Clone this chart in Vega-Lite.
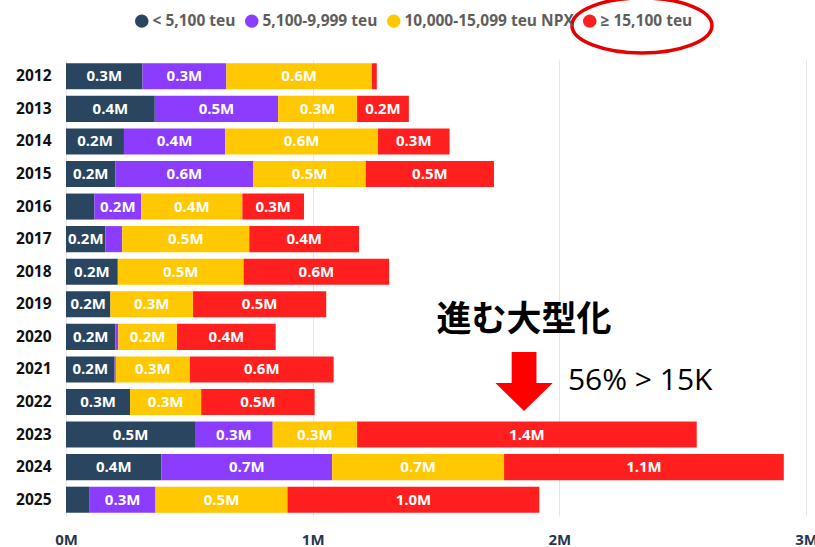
{
  "$schema": "https://vega.github.io/schema/vega-lite/v6.json",
  "width": 740,
  "height": 456,
  "autosize": {"type": "none"},
  "padding": {"left": 66, "top": 60, "right": 9, "bottom": 31},
  "background": "white",
  "config": {"view": {"stroke": null}, "font": "Open Sans"},
  "datasets": {
    "ships": [
      {"year": "2012", "cat": "< 5,100 teu", "v": 0.31},
      {"year": "2012", "cat": "5,100-9,999 teu", "v": 0.34},
      {"year": "2012", "cat": "10,000-15,099 teu NPX", "v": 0.59},
      {"year": "2012", "cat": "≥ 15,100 teu", "v": 0.02},
      {"year": "2013", "cat": "< 5,100 teu", "v": 0.36},
      {"year": "2013", "cat": "5,100-9,999 teu", "v": 0.5},
      {"year": "2013", "cat": "10,000-15,099 teu NPX", "v": 0.32},
      {"year": "2013", "cat": "≥ 15,100 teu", "v": 0.21},
      {"year": "2014", "cat": "< 5,100 teu", "v": 0.235},
      {"year": "2014", "cat": "5,100-9,999 teu", "v": 0.41},
      {"year": "2014", "cat": "10,000-15,099 teu NPX", "v": 0.62},
      {"year": "2014", "cat": "≥ 15,100 teu", "v": 0.29},
      {"year": "2015", "cat": "< 5,100 teu", "v": 0.2},
      {"year": "2015", "cat": "5,100-9,999 teu", "v": 0.56},
      {"year": "2015", "cat": "10,000-15,099 teu NPX", "v": 0.455},
      {"year": "2015", "cat": "≥ 15,100 teu", "v": 0.52},
      {"year": "2016", "cat": "< 5,100 teu", "v": 0.115},
      {"year": "2016", "cat": "5,100-9,999 teu", "v": 0.19},
      {"year": "2016", "cat": "10,000-15,099 teu NPX", "v": 0.41},
      {"year": "2016", "cat": "≥ 15,100 teu", "v": 0.25},
      {"year": "2017", "cat": "< 5,100 teu", "v": 0.16},
      {"year": "2017", "cat": "5,100-9,999 teu", "v": 0.068},
      {"year": "2017", "cat": "10,000-15,099 teu NPX", "v": 0.515},
      {"year": "2017", "cat": "≥ 15,100 teu", "v": 0.445},
      {"year": "2018", "cat": "< 5,100 teu", "v": 0.21},
      {"year": "2018", "cat": "10,000-15,099 teu NPX", "v": 0.51},
      {"year": "2018", "cat": "≥ 15,100 teu", "v": 0.59},
      {"year": "2019", "cat": "< 5,100 teu", "v": 0.18},
      {"year": "2019", "cat": "10,000-15,099 teu NPX", "v": 0.335},
      {"year": "2019", "cat": "≥ 15,100 teu", "v": 0.54},
      {"year": "2020", "cat": "< 5,100 teu", "v": 0.2},
      {"year": "2020", "cat": "5,100-9,999 teu", "v": 0.012},
      {"year": "2020", "cat": "10,000-15,099 teu NPX", "v": 0.238},
      {"year": "2020", "cat": "≥ 15,100 teu", "v": 0.4},
      {"year": "2021", "cat": "< 5,100 teu", "v": 0.197},
      {"year": "2021", "cat": "5,100-9,999 teu", "v": 0.005},
      {"year": "2021", "cat": "10,000-15,099 teu NPX", "v": 0.3},
      {"year": "2021", "cat": "≥ 15,100 teu", "v": 0.583},
      {"year": "2022", "cat": "< 5,100 teu", "v": 0.26},
      {"year": "2022", "cat": "10,000-15,099 teu NPX", "v": 0.288},
      {"year": "2022", "cat": "≥ 15,100 teu", "v": 0.46},
      {"year": "2023", "cat": "< 5,100 teu", "v": 0.523},
      {"year": "2023", "cat": "5,100-9,999 teu", "v": 0.315},
      {"year": "2023", "cat": "10,000-15,099 teu NPX", "v": 0.342},
      {"year": "2023", "cat": "≥ 15,100 teu", "v": 1.377},
      {"year": "2024", "cat": "< 5,100 teu", "v": 0.387},
      {"year": "2024", "cat": "5,100-9,999 teu", "v": 0.692},
      {"year": "2024", "cat": "10,000-15,099 teu NPX", "v": 0.697},
      {"year": "2024", "cat": "≥ 15,100 teu", "v": 1.134},
      {"year": "2025", "cat": "< 5,100 teu", "v": 0.096},
      {"year": "2025", "cat": "5,100-9,999 teu", "v": 0.267},
      {"year": "2025", "cat": "10,000-15,099 teu NPX", "v": 0.535},
      {"year": "2025", "cat": "≥ 15,100 teu", "v": 1.021}
    ],
    "title": [{"x": 1.857, "year": "2019", "t": "進む大型化"}],
    "note": [{"x": 2.035, "year": "2021", "t": "56% > 15K"}],
    "arrow": [{"x": 1.857, "year": "2021"}],
    "ring": [{"x": 2.335, "year": "2012"}]
  },
  "layer": [
    {
      "data": {"name": "ships"},
      "transform": [
        {"calculate": "indexof(['< 5,100 teu','5,100-9,999 teu','10,000-15,099 teu NPX','≥ 15,100 teu'], datum.cat)", "as": "o"},
        {"stack": "v", "groupby": ["year"], "sort": [{"field": "o", "order": "ascending"}], "as": ["x0", "x1"]},
        {"calculate": "(datum.x0 + datum.x1) / 2", "as": "mid"}
      ],
      "layer": [
        {
          "mark": {"type": "bar"},
          "encoding": {
            "y": {
              "field": "year", "type": "ordinal", "title": null,
              "scale": {"paddingInner": 0.2, "paddingOuter": 0.1},
              "axis": {"domain": false, "ticks": false, "labelPadding": 15, "labelFont": "Open Sans", "labelFontSize": 15.5, "labelFontWeight": "bold", "labelColor": "#111111"}
            },
            "x": {
              "field": "x0", "type": "quantitative", "title": null,
              "scale": {"domain": [0, 3], "nice": false},
              "axis": {"values": [0, 1, 2, 3], "labelExpr": "datum.value + 'M'", "labelFlush": false, "labelOverlap": false, "domain": false, "ticks": false, "grid": true, "gridColor": "#E6E6E6", "gridWidth": 1, "labelPadding": 16, "labelFont": "Open Sans", "labelFontSize": 15, "labelFontWeight": "bold", "labelColor": "#27374D"}
            },
            "x2": {"field": "x1"},
            "color": {
              "field": "cat", "type": "nominal",
              "scale": {
                "domain": ["< 5,100 teu", "5,100-9,999 teu", "10,000-15,099 teu NPX", "≥ 15,100 teu"],
                "range": ["#2A4560", "#8B3CFF", "#FFC800", "#FF1F1F"]
              },
              "legend": {
                "title": null, "orient": "none", "direction": "horizontal",
                "legendX": 68, "legendY": -47, "padding": 0,
                "symbolType": "circle", "symbolSize": 180, "symbolStrokeWidth": 0,
                "labelFont": "Open Sans", "labelFontSize": 15.5, "labelFontWeight": "bold", "labelColor": "#605E5C",
                "labelOffset": 3, "columnPadding": 8, "labelLimit": 400
              }
            }
          }
        },
        {
          "transform": [{"filter": "datum.v >= 0.13"}],
          "mark": {"type": "text", "color": "white", "font": "Open Sans", "fontSize": 15, "fontWeight": "bold", "align": "center", "baseline": "middle", "text": {"expr": "format(datum.v, '.1f') + 'M'"}},
          "encoding": {
            "y": {"field": "year", "type": "ordinal"},
            "x": {"field": "mid", "type": "quantitative"}
          }
        }
      ]
    },
    {
      "data": {"name": "title"},
      "mark": {"type": "text", "font": "Noto Sans CJK JP", "fontSize": 35, "fontWeight": "bold", "color": "#000000", "align": "center", "baseline": "middle"},
      "encoding": {
        "x": {"field": "x", "type": "quantitative"},
        "y": {"field": "year", "type": "ordinal", "bandPosition": 1.1},
        "text": {"field": "t"}
      }
    },
    {
      "data": {"name": "note"},
      "mark": {"type": "text", "font": "Open Sans", "fontSize": 30, "color": "#000000", "align": "left", "baseline": "alphabetic"},
      "encoding": {
        "x": {"field": "x", "type": "quantitative"},
        "y": {"field": "year", "type": "ordinal", "bandPosition": 1.29},
        "text": {"field": "t"}
      }
    },
    {
      "data": {"name": "arrow"},
      "mark": {"type": "point", "filled": true, "color": "#FF0000", "opacity": 1, "size": 3481, "strokeWidth": 0, "shape": "M -0.42 -1 L 0.42 -1 L 0.42 0.05 L 0.97 0.05 L 0 1 L -0.97 0.05 L -0.42 0.05 Z"},
      "encoding": {
        "x": {"field": "x", "type": "quantitative"},
        "y": {"field": "year", "type": "ordinal", "bandPosition": 0.96}
      }
    },
    {
      "data": {"name": "ring"},
      "mark": {"type": "point", "filled": false, "color": "#E60000", "opacity": 1, "size": 19600, "strokeWidth": 3.5, "shape": "M -1 0 A 1 0.393 0 1 1 1 0 A 1 0.393 0 1 1 -1 0 Z"},
      "encoding": {
        "x": {"field": "x", "type": "quantitative"},
        "y": {"field": "year", "type": "ordinal", "bandPosition": -1.45}
      }
    }
  ]
}
